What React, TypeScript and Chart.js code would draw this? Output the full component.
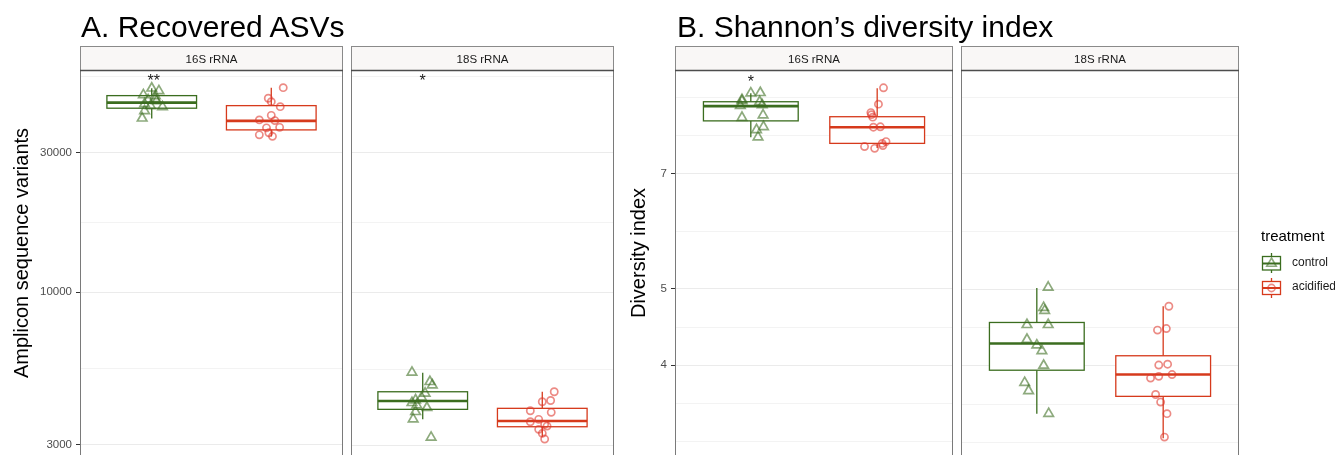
import React, { useEffect, useRef } from 'react';
import { Chart, registerables } from 'chart.js';

Chart.register(...registerables);

const FONT = "'Liberation Sans', Arial, Helvetica, sans-serif";

// ---------- labels ----------
const treatments = ['control', 'acidified'];
const facetLabels = ['16S rRNA', '18S rRNA'];
const panelTitles = ['A. Recovered ASVs', 'B. Shannon\u2019s diversity index'];
const yAxisTitles = ['Amplicon sequence variants', 'Diversity index'];
const legendTitle = 'treatment';

// ---------- axes ----------
const asvTickValues = [3000, 10000, 30000];
const asvTickLabels = ['3000', '10000', '30000'];
const asvRange = [2682, 57460];
const shannonTickValues = [4, 5, 7];
const shannonTickLabels = ['4', '5', '7'];
const shannonRange = [3.04, 9.48];

// ---------- box statistics: [lower whisker, Q1, median, Q3, upper whisker] ----------
const asv16SControlBox = [39200, 42530, 44440, 46960, 49760];
const asv16SAcidifiedBox = [34020, 35850, 38490, 43400, 50000];
const asv18SControlBox = [3691, 3993, 4263, 4585, 5323];
const asv18SAcidifiedBox = [3220, 3483, 3642, 4025, 4585];
const shannon16SControlBox = [7.79, 8.17, 8.53, 8.64, 8.86];
const shannon16SAcidifiedBox = [7.55, 7.65, 8.02, 8.27, 8.99];
const shannon18SControlBox = [3.48, 3.95, 4.27, 4.54, 5.02];
const shannon18SAcidifiedBox = [3.24, 3.66, 3.9, 4.12, 4.76];

// ---------- individual samples ----------
const asv16SControl = [49760, 48720, 47210, 46840, 45400, 45040, 43980, 42970, 43310, 41640, 39300, 45760];
const asv16SControlJitter = [0.0, 0.06, -0.07, 0.03, -0.03, 0.04, -0.06, 0.09, -0.01, -0.06, -0.08, 0.03];
const asv16SAcidified = [50000, 46000, 44790, 43060, 40200, 38790, 38580, 36430, 36570, 34480, 34080, 35040];
const asv16SAcidifiedJitter = [0.1, -0.025, 0.0, 0.075, 0.0, -0.1, 0.03, -0.04, 0.07, -0.1, 0.01, -0.02];
const asv18SControl = [5340, 4961, 4834, 4529, 4388, 4296, 4206, 4130, 4044, 3918, 3700, 3205];
const asv18SControlJitter = [-0.09, 0.06, 0.08, 0.02, -0.01, -0.06, -0.09, -0.05, 0.035, -0.06, -0.08, 0.07];
const asv18SAcidified = [4585, 4239, 4280, 3949, 3900, 3691, 3622, 3549, 3412, 3307, 3162, 3502];
const asv18SAcidifiedJitter = [0.1, 0.0, 0.07, -0.1, 0.075, -0.03, -0.1, 0.02, -0.03, 0.0, 0.02, 0.04];

const shannon16SControl = [8.86, 8.87, 8.66, 8.54, 8.64, 8.56, 8.25, 8.31, 8.03, 7.96, 7.79, 8.69];
const shannon16SControlJitter = [0.0, 0.075, -0.07, -0.083, 0.07, 0.09, -0.07, 0.097, 0.1, 0.045, 0.057, -0.07];
const shannon16SAcidified = [9.0, 8.58, 8.37, 8.26, 8.02, 8.03, 7.69, 7.65, 7.58, 7.54, 7.6, 8.32];
const shannon16SAcidifiedJitter = [0.05, 0.01, -0.05, -0.035, -0.03, 0.025, 0.07, 0.04, -0.1, -0.02, 0.045, -0.045];
const shannon18SControl = [5.03, 4.74, 4.7, 4.51, 4.51, 4.32, 4.25, 4.18, 4.005, 3.81, 3.72, 3.48];
const shannon18SControlJitter = [0.09, 0.054, 0.062, -0.078, 0.09, -0.078, 0.0, 0.04, 0.054, -0.096, -0.065, 0.094];
const shannon18SAcidified = [4.76, 4.44, 4.46, 4.01, 4.02, 3.86, 3.88, 3.9, 3.68, 3.6, 3.48, 3.25];
const shannon18SAcidifiedJitter = [0.045, -0.045, 0.025, -0.035, 0.035, -0.1, -0.035, 0.07, -0.06, -0.02, 0.03, 0.01];

// ---------- significance ----------
const asvSignificance16S = ['**', ''];
const asvSignificance18S = ['*', ''];
const shannonSignificance16S = ['*', ''];
const shannonSignificance18S = ['', ''];
const asvSignificanceY = 50500;
const shannonSignificanceY = 9.03;

// ---------- styling ----------
const lineColors = ['#3B6D1F', '#D63A1C'];
const pointColors = ['rgba(59,109,31,0.58)', 'rgba(222,55,45,0.58)'];
const BOX_WIDTH = 0.75;
const CANVAS_H = 470;
const PANEL_TOP = 70;
const PANEL_BOTTOM_PAD = 10;

function gridValues(majors: number[], lo: number, hi: number) {
  const b = majors.map((m) => Math.log10(m));
  const bd = b[1] - b[0];
  const ext = [...b];
  if (Math.log10(lo) < b[0]) ext.unshift(b[0] - bd);
  if (Math.log10(hi) > b[b.length - 1]) ext.push(b[b.length - 1] + bd);
  const out: number[] = [];
  for (let i = 0; i < ext.length - 1; i++) out.push(ext[i], (ext[i] + ext[i + 1]) / 2);
  out.push(ext[ext.length - 1]);
  return out.map((v) => Math.pow(10, v)).filter((v) => v >= lo && v <= hi);
}

type FacetProps = {
  left: number;
  width: number;
  axisWidth: number;
  yRange: number[];
  tickValues: number[];
  tickLabels: string[];
  boxes: number[][];
  points: number[][];
  jitters: number[][];
  signif: string[];
  signifY: number;
};

function Facet(p: FacetProps) {
  const ref = useRef<HTMLCanvasElement>(null);
  useEffect(() => {
    if (!ref.current) return;
    const grid = gridValues(p.tickValues, p.yRange[0], p.yRange[1]);
    const tickObjs = grid.map((v) => {
      const k = p.tickValues.findIndex((m) => Math.abs(m - v) / m < 1e-6);
      return k >= 0
        ? { value: p.tickValues[k], label: p.tickLabels[k], isMain: true }
        : { value: v, label: '', isMain: false };
    });
    const showAxis = p.axisWidth > 0;

    const facetPlugin = {
      id: 'facetBoxes',
      beforeDatasetsDraw(chart: any) {
        const { ctx } = chart;
        const xs = chart.scales.x;
        const ys = chart.scales.y;
        const y = (v: number) => ys.getPixelForValue(v);
        ctx.save();
        p.boxes.forEach((s, i) => {
          const [lo, q1, med, q3, hi] = s;
          const xc = xs.getPixelForValue(i + 1);
          const xl = xs.getPixelForValue(i + 1 - BOX_WIDTH / 2);
          const xr = xs.getPixelForValue(i + 1 + BOX_WIDTH / 2);
          ctx.strokeStyle = lineColors[i];
          ctx.lineWidth = 1.3;
          ctx.beginPath();
          ctx.moveTo(xc, y(hi));
          ctx.lineTo(xc, y(q3));
          ctx.moveTo(xc, y(q1));
          ctx.lineTo(xc, y(lo));
          ctx.stroke();
          ctx.fillStyle = '#ffffff';
          ctx.fillRect(xl, y(q3), xr - xl, y(q1) - y(q3));
          ctx.strokeRect(xl, y(q3), xr - xl, y(q1) - y(q3));
          ctx.lineWidth = 2.6;
          ctx.beginPath();
          ctx.moveTo(xl, y(med));
          ctx.lineTo(xr, y(med));
          ctx.stroke();
        });
        ctx.restore();
      },
      afterDatasetsDraw(chart: any) {
        const { ctx, chartArea } = chart;
        const xs = chart.scales.x;
        const ys = chart.scales.y;
        ctx.save();
        ctx.font = `16px ${FONT}`;
        ctx.fillStyle = '#1a1a1a';
        ctx.textAlign = 'center';
        ctx.textBaseline = 'alphabetic';
        p.signif.forEach((s, i) => {
          if (s) ctx.fillText(s, xs.getPixelForValue(i + 1) + (s.length > 1 ? 2 : 0), ys.getPixelForValue(p.signifY));
        });
        ctx.strokeStyle = '#7a7a7a';
        ctx.lineWidth = 1;
        ctx.strokeRect(
          chartArea.left + 0.5,
          chartArea.top + 0.5,
          chartArea.right - chartArea.left - 1,
          chartArea.bottom - chartArea.top - 1
        );
        ctx.restore();
      },
    };

    const chart = new Chart(ref.current, {
      type: 'scatter',
      data: {
        datasets: treatments.map((t, i) => ({
          label: t,
          data: p.points[i].map((v, j) => ({ x: i + 1 + p.jitters[i][j], y: v })),
          pointStyle: i === 0 ? 'triangle' : 'circle',
          pointRadius: i === 0 ? 5.5 : 3.6,
          pointHoverRadius: i === 0 ? 5.5 : 3.6,
          borderWidth: 1.7,
          borderColor: pointColors[i],
          backgroundColor: 'rgba(0,0,0,0)',
          showLine: false,
        })),
      },
      options: {
        responsive: false,
        animation: false,
        events: [],
        layout: {
          autoPadding: false,
          padding: { top: PANEL_TOP, bottom: PANEL_BOTTOM_PAD, left: 0, right: 0 },
        },
        plugins: { legend: { display: false }, tooltip: { enabled: false } },
        scales: {
          x: { type: 'linear', min: 0.4, max: 2.6, display: false },
          y: {
            type: 'logarithmic',
            min: p.yRange[0],
            max: p.yRange[1],
            afterBuildTicks: (scale: any) => {
              scale.ticks = tickObjs.map((t) => ({ ...t }));
            },
            afterFit: (scale: any) => {
              scale.width = p.axisWidth;
            },
            border: { display: false },
            grid: {
              drawTicks: showAxis,
              tickLength: 4,
              tickWidth: 1,
              tickColor: (ctx: any) => (ctx.tick && ctx.tick.isMain ? '#333333' : 'rgba(0,0,0,0)'),
              color: (ctx: any) => (ctx.tick && ctx.tick.isMain ? '#EBEBEB' : '#F3F3F3'),
              lineWidth: 1,
            },
            ticks: {
              display: showAxis,
              autoSkip: false,
              padding: 4,
              color: '#4D4D4D',
              font: { family: FONT, size: 11.5 },
              callback: (value: any) => {
                const t = tickObjs.find((o) => o.value === value);
                return t ? t.label : '';
              },
            },
          },
        },
      },
      plugins: [facetPlugin],
    } as any);
    return () => chart.destroy();
  }, []);
  return (
    <canvas
      ref={ref}
      width={p.width}
      height={CANVAS_H}
      style={{ position: 'absolute', left: p.left, top: 0, width: p.width, height: CANVAS_H, display: 'block' }}
    />
  );
}

// panel geometry (page pixels): [left, right] of each facet's plotting area
const facetGeom = [
  { left: 80, right: 343 },
  { left: 351, right: 614 },
  { left: 675, right: 953 },
  { left: 961, right: 1239 },
];

export default function App() {
  const facets: FacetProps[] = [
    {
      left: 0, width: 343, axisWidth: 80, yRange: asvRange, tickValues: asvTickValues, tickLabels: asvTickLabels,
      boxes: [asv16SControlBox, asv16SAcidifiedBox], points: [asv16SControl, asv16SAcidified],
      jitters: [asv16SControlJitter, asv16SAcidifiedJitter], signif: asvSignificance16S, signifY: asvSignificanceY,
    },
    {
      left: 351, width: 263, axisWidth: 0, yRange: asvRange, tickValues: asvTickValues, tickLabels: asvTickLabels,
      boxes: [asv18SControlBox, asv18SAcidifiedBox], points: [asv18SControl, asv18SAcidified],
      jitters: [asv18SControlJitter, asv18SAcidifiedJitter], signif: asvSignificance18S, signifY: asvSignificanceY,
    },
    {
      left: 595, width: 358, axisWidth: 80, yRange: shannonRange, tickValues: shannonTickValues, tickLabels: shannonTickLabels,
      boxes: [shannon16SControlBox, shannon16SAcidifiedBox], points: [shannon16SControl, shannon16SAcidified],
      jitters: [shannon16SControlJitter, shannon16SAcidifiedJitter], signif: shannonSignificance16S, signifY: shannonSignificanceY,
    },
    {
      left: 961, width: 278, axisWidth: 0, yRange: shannonRange, tickValues: shannonTickValues, tickLabels: shannonTickLabels,
      boxes: [shannon18SControlBox, shannon18SAcidifiedBox], points: [shannon18SControl, shannon18SAcidified],
      jitters: [shannon18SControlJitter, shannon18SAcidifiedJitter], signif: shannonSignificance18S, signifY: shannonSignificanceY,
    },
  ];

  return (
    <div
      style={{
        position: 'fixed', left: 0, top: 0, width: 1335, height: 455, overflow: 'hidden', background: '#ffffff',
      }}
    >
      {facets.map((f, i) => (
        <Facet key={i} {...f} />
      ))}
      <svg
        width={1335}
        height={455}
        style={{ position: 'absolute', left: 0, top: 0, pointerEvents: 'none' }}
        fontFamily={FONT}
      >
        <text x={81} y={37} fontSize={30} fill="#000">{panelTitles[0]}</text>
        <text x={677} y={37} fontSize={30} fill="#000">{panelTitles[1]}</text>
        <text x={28} y={253} fontSize={20} fill="#000" textAnchor="middle" transform="rotate(-90 28 253)">
          {yAxisTitles[0]}
        </text>
        <text x={645} y={253} fontSize={20} fill="#000" textAnchor="middle" transform="rotate(-90 645 253)">
          {yAxisTitles[1]}
        </text>
        {facetGeom.map((g, i) => (
          <g key={i}>
            <rect x={g.left + 0.5} y={46.5} width={g.right - g.left - 1} height={24} fill="#F9F7F6" stroke="#8A8A8A" strokeWidth={1} />
            <line x1={g.left} x2={g.right} y1={70.5} y2={70.5} stroke="#4D4D4D" strokeWidth={1.3} />
            <text x={(g.left + g.right) / 2} y={62.5} fontSize={11.5} fill="#1A1A1A" textAnchor="middle">
              {facetLabels[i % 2]}
            </text>
          </g>
        ))}
        <text x={1261} y={241} fontSize={15} fill="#000">{legendTitle}</text>
        {/* control key */}
        <line x1={1271.5} x2={1271.5} y1={253} y2={273} stroke={lineColors[0]} strokeWidth={1.3} />
        <rect x={1262.5} y={256.5} width={18} height={13.5} fill="#fff" stroke={lineColors[0]} strokeWidth={1.3} />
        <line x1={1262.5} x2={1280.5} y1={263.5} y2={263.5} stroke={lineColors[0]} strokeWidth={2} />
        <polygon points="1271.5,258 1276.3,266.3 1266.7,266.3" fill="none" stroke={pointColors[0]} strokeWidth={1.6} />
        <text x={1292} y={266} fontSize={12} fill="#1A1A1A">{treatments[0]}</text>
        {/* acidified key */}
        <line x1={1271.5} x2={1271.5} y1={278} y2={298} stroke={lineColors[1]} strokeWidth={1.3} />
        <rect x={1262.5} y={281.5} width={18} height={13} fill="#fff" stroke={lineColors[1]} strokeWidth={1.3} />
        <line x1={1262.5} x2={1280.5} y1={288} y2={288} stroke={lineColors[1]} strokeWidth={2} />
        <circle cx={1271.5} cy={288} r={3.6} fill="none" stroke={pointColors[1]} strokeWidth={1.6} />
        <text x={1292} y={290} fontSize={12} fill="#1A1A1A">{treatments[1]}</text>
      </svg>
    </div>
  );
}
